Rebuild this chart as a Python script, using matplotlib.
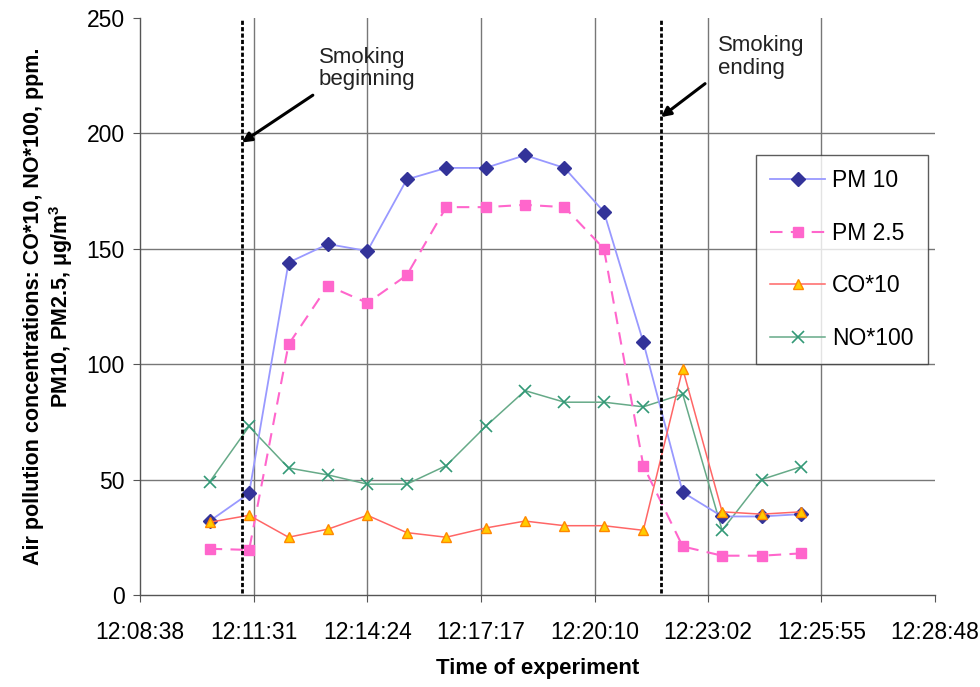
import matplotlib
matplotlib.use("Agg")
import matplotlib.pyplot as plt
from matplotlib.ticker import FixedLocator

plt.rcParams['font.family'] = ['Liberation Sans', 'DejaVu Sans']

def hms(s):
    h, m, sec = [int(v) for v in s.split(":")]
    return h * 3600 + m * 60 + sec

# ---- data ----
times = ["12:10:24", "12:11:24", "12:12:24", "12:13:24", "12:14:24", "12:15:24",
         "12:16:24", "12:17:24", "12:18:24", "12:19:24", "12:20:24", "12:21:24",
         "12:22:24", "12:23:24", "12:24:24", "12:25:24"]
pm10 = [32, 44, 144, 152, 149, 180, 185, 185, 190.5, 185, 166, 109.5, 44.5, 34, 34, 35]
pm25 = [20, 19.5, 108.5, 134, 126.5, 138.5, 168, 168, 169, 168, 150, 56, 21, 17, 17, 18]
co10 = [31.5, 34.5, 25, 28.5, 34.5, 27, 25, 29, 32, 30, 30, 28, 98, 36, 35, 36]
no100 = [49, 73, 55, 52, 48, 48, 56, 73, 88.5, 83.5, 83.5, 81.5, 87, 28, 50, 55.5]
xtick_labels = ["12:08:38", "12:11:31", "12:14:24", "12:17:17", "12:20:10",
                "12:23:02", "12:25:55", "12:28:48"]
yticks = [0, 50, 100, 150, 200, 250]
smoke_start = "12:11:13"
smoke_end = "12:21:51"

x = [hms(t) for t in times]
xt = [hms(t) for t in xtick_labels]

fig = plt.figure(figsize=(9.8, 6.87), dpi=100)
ax = fig.add_axes([0.1429, 0.134, 0.8112, 0.840])

ax.plot(x, pm10, color='#9999ff', lw=1.3, marker='D', ms=7,
        mfc='#333399', mec='#333399', label='PM 10', zorder=5)
ax.plot(x, pm25, color='#ff66cc', lw=1.5, ls=(0, (6, 4)), marker='s', ms=7.5,
        mfc='#ff66cc', mec='#ff66cc', label='PM 2.5', zorder=4)
ax.plot(x, co10, color='#ff6666', lw=1.1, marker='^', ms=7,
        mfc='#ffcc00', mec='#ff8800', label='CO*10', zorder=6)
ax.plot(x, no100, color='#66aa88', lw=1.1, marker='x', ms=9, mew=1.2,
        mec='#339977', label='NO*100', zorder=3)

for t in (smoke_start, smoke_end):
    ax.plot([hms(t), hms(t)], [1, 249], color='black', lw=2.0,
            ls=(0, (1.5, 0.8)), zorder=7)

ax.annotate("", xy=(hms(smoke_start), 196), xytext=(hms("12:13:01"), 216.5),
            arrowprops=dict(arrowstyle='-|>', color='black', lw=2.2,
                            mutation_scale=14, shrinkA=0, shrinkB=0), zorder=8)
ax.text(hms("12:13:10"), 228, "Smoking\nbeginning", fontsize=16, ha='left',
        va='center', color='#222222', linespacing=1.1)
ax.annotate("", xy=(hms(smoke_end), 207), xytext=(hms("12:22:58"), 221.5),
            arrowprops=dict(arrowstyle='-|>', color='black', lw=2.2,
                            mutation_scale=14, shrinkA=0, shrinkB=0), zorder=8)
ax.text(hms("12:23:17"), 233, "Smoking\nending", fontsize=16, ha='left',
        va='center', color='#222222', linespacing=1.1)

ax.set_xlim(xt[0], xt[-1])
ax.set_ylim(0, 250)
ax.xaxis.set_major_locator(FixedLocator(xt))
ax.set_xticklabels(xtick_labels)
ax.set_yticks(yticks)
ax.tick_params(axis='both', labelsize=16.5, direction='out', length=5,
               color='#555555', pad=6)
ax.tick_params(axis='x', pad=14)

ax.grid(True, color='#777777', lw=1.0)
ax.set_axisbelow(True)
ax.get_ygridlines()[-1].set_visible(False)
ax.get_xgridlines()[-1].set_visible(False)
ax.get_xgridlines()[0].set_visible(False)
ax.get_ygridlines()[0].set_visible(False)
for s in ('top', 'right'):
    ax.spines[s].set_visible(False)
for s in ('left', 'bottom'):
    ax.spines[s].set_color('#555555')
    ax.spines[s].set_linewidth(1.0)

ax.set_xlabel("Time of experiment", fontsize=16, fontweight='bold', labelpad=10)
ax.set_ylabel("Air pollution concentrations: CO*10, NO*100, ppm.\n"
              "PM10, PM2.5, $\\mathregular{\\mu g/m^3}$",
              fontsize=15.5, fontweight='bold', labelpad=8, linespacing=1.15)

leg = ax.legend(loc='upper left', bbox_to_anchor=(0.775, 0.763), fontsize=16.5,
                frameon=True, fancybox=False, edgecolor='#333333',
                labelspacing=1.3, handlelength=2.4, borderpad=0.62,
                handletextpad=0.3, borderaxespad=0)
leg.get_frame().set_linewidth(1.0)
leg.set_zorder(10)

fig.savefig("out.png", dpi=100, facecolor='white')
